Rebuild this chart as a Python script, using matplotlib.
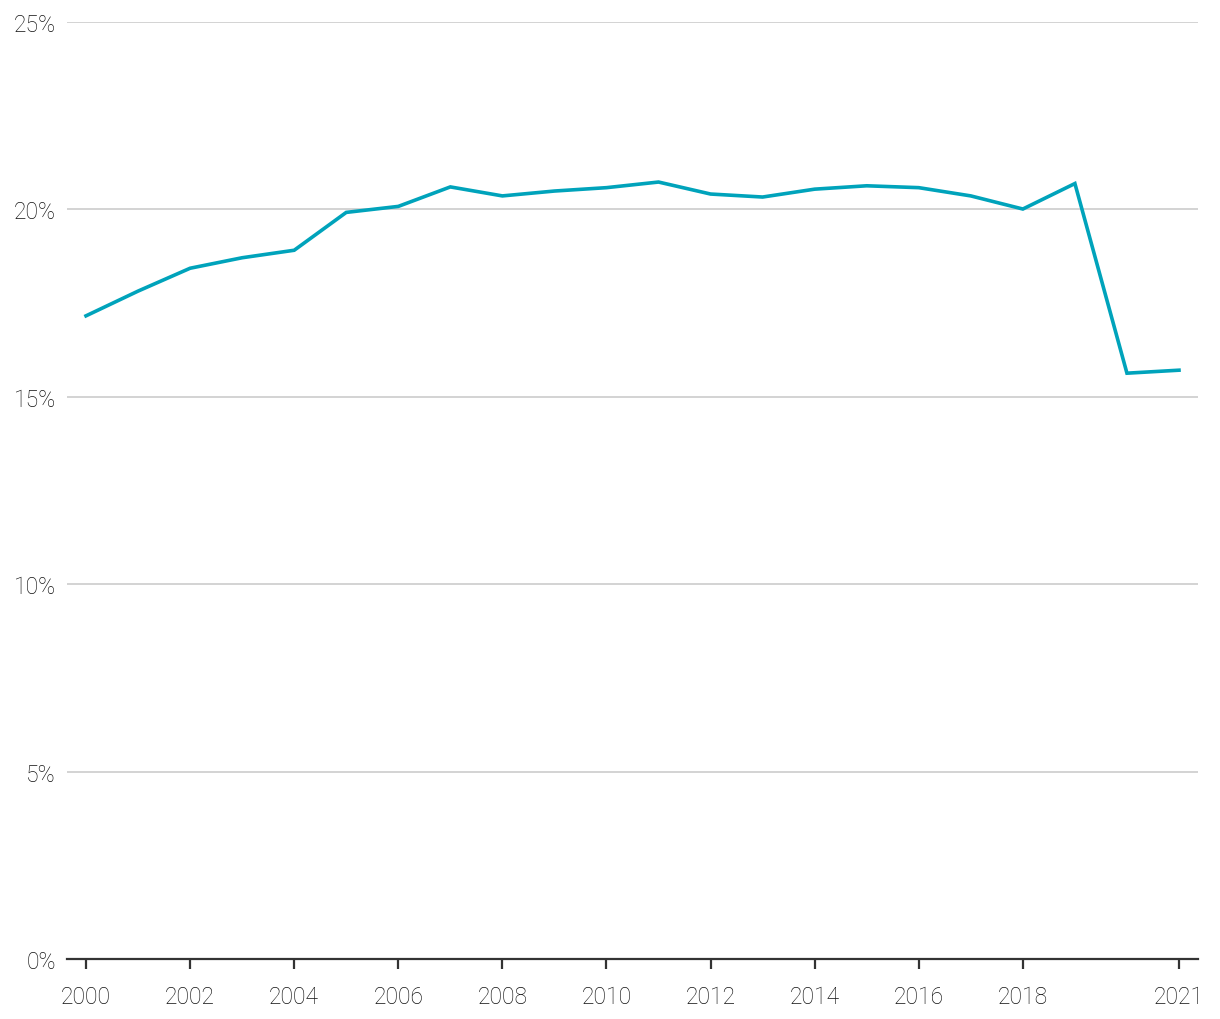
import numpy as np
import matplotlib.pyplot as plt
from matplotlib.ticker import FuncFormatter

# values (share, in %)
years = list(range(2000, 2022))
share = [17.16, 17.82, 18.43, 18.71, 18.91, 19.92, 20.08, 20.60, 20.36, 20.49,
         20.58, 20.73, 20.41, 20.33, 20.54, 20.63, 20.58, 20.36, 20.01, 20.69,
         15.63, 15.71]
xticks = [2000, 2002, 2004, 2006, 2008, 2010, 2012, 2014, 2016, 2018, 2021]
yticks = [0, 5, 10, 15, 20, 25]

plt.rcParams['font.family'] = ['Roboto', 'DejaVu Sans']

fig = plt.figure(figsize=(12.2, 10.2), dpi=100)
ax = fig.add_axes([67/1220, 1 - 960/1020, (1198-67)/1220, (960-23)/1020])

ax.plot(years, share, color='#00a3bb', linewidth=2.6, solid_joinstyle='miter', zorder=3)

# x limits so 2000 and 2021 land where they do in the reference
px = (2021 - 2000) / (1179 - 86)
ax.set_xlim(2000 - (86 - 67) * px, 2021 + (1198 - 1179) * px)
ax.set_ylim(0, 25)

ax.set_yticks(yticks)
ax.yaxis.set_major_formatter(FuncFormatter(lambda v, p: f"{v:.0f}%"))
ax.set_xticks(xticks)
ax.set_xticklabels([str(x) for x in xticks])

ax.grid(axis='y', color='#cccccc', linewidth=1.2, zorder=0)
ax.set_axisbelow(True)
for s in ['top', 'right', 'left']:
    ax.spines[s].set_visible(False)
ax.spines['bottom'].set_color('#333333')
ax.spines['bottom'].set_linewidth(1.6)
ax.spines['bottom'].set_zorder(4)

ax.tick_params(axis='y', length=0, pad=8, labelsize=16.5, labelcolor='#111111')
ax.tick_params(axis='x', length=7, width=1.6, color='#333333', pad=12,
               labelsize=16.5, labelcolor='#111111')
for lbl in ax.get_xticklabels() + ax.get_yticklabels():
    lbl.set_fontweight('light')

plt.savefig('out.png', dpi=100)
plt.close()
